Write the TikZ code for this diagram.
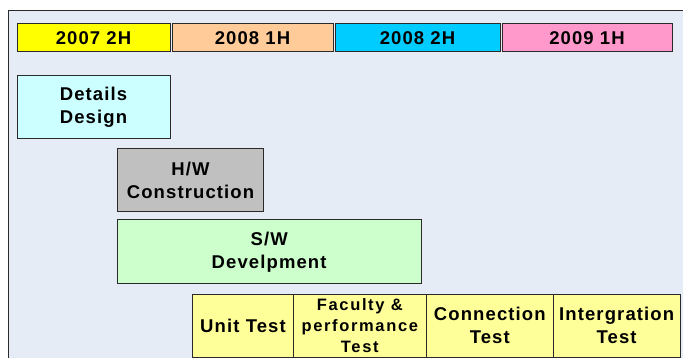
\documentclass[tikz,border=0pt]{standalone}
\usepackage{fontspec}
\setmainfont{Liberation Sans}[LetterSpace=6]
\newfontfamily\widefont{Liberation Sans}[LetterSpace=10]
\definecolor{bgc}{HTML}{E6ECF6}
\definecolor{c1}{HTML}{FFFF00}
\definecolor{c2}{HTML}{FFCC99}
\definecolor{c3}{HTML}{00CCFF}
\definecolor{c4}{HTML}{FF99CC}
\definecolor{cd}{HTML}{CCFFFF}
\definecolor{ch}{HTML}{C0C0C0}
\definecolor{cs}{HTML}{CCFFCC}
\definecolor{ct}{HTML}{FFFF99}
\definecolor{edge}{HTML}{2A2A2A}
\tikzset{
  bx/.style={draw=edge, line width=1pt, rectangle, inner sep=0pt, align=center,
    font=\fontsize{18.5}{23}\selectfont\bfseries},
  hd/.style={bx, minimum height=27.5pt},
  tb/.style={bx, minimum height=63pt},
}
\begin{document}
\begin{tikzpicture}[x=1pt,y=-1pt]
\useasboundingbox (0,0) rectangle (683,358);
\begin{scope}
\clip (0,0) rectangle (683,358);
\draw[fill=bgc, draw=edge, line width=1pt] (8.5,10.5) rectangle (700,380);
\end{scope}
% header
\node[hd, fill=c1, minimum width=153pt] (h1) at (93.5,37.75) {2007 2H};
\node[hd, fill=c2, minimum width=161pt] (h2) at (252.5,37.75) {2008 1H};
\node[hd, fill=c3, minimum width=165pt] (h3) at (417.5,37.75) {2008 2H};
\node[hd, fill=c4, minimum width=170pt] (h4) at (587,37.75) {2009 1H};
% tasks
\node[bx, fill=cd, minimum width=153pt, minimum height=62.5pt] (dd) at (93.5,107.25) {Details\\Design};
\node[bx, fill=ch, minimum width=146.4pt, minimum height=63.4pt] (hw) at (190.5,180) {H/W\\Construction};
\node[bx, fill=cs, minimum width=303.7pt, minimum height=63.7pt] (sw) at (269.15,251.85) {S/W\\Develpment};
% tests
\node[tb, fill=ct, minimum width=100.6pt] (ut) at (243,325.5) {Unit Test};
\node[tb, fill=ct, minimum width=133pt, font=\widefont\fontsize{16.5}{21}\selectfont\bfseries] (ft) at (359.8,325.5) {Faculty \&\\performance\\Test};
\node[tb, fill=ct, minimum width=127pt] (ct) at (489.8,325.5) {Connection\\Test};
\node[tb, fill=ct, minimum width=126.7pt] (it) at (616.65,325.5) {Intergration\\Test};
\end{tikzpicture}
\end{document}
